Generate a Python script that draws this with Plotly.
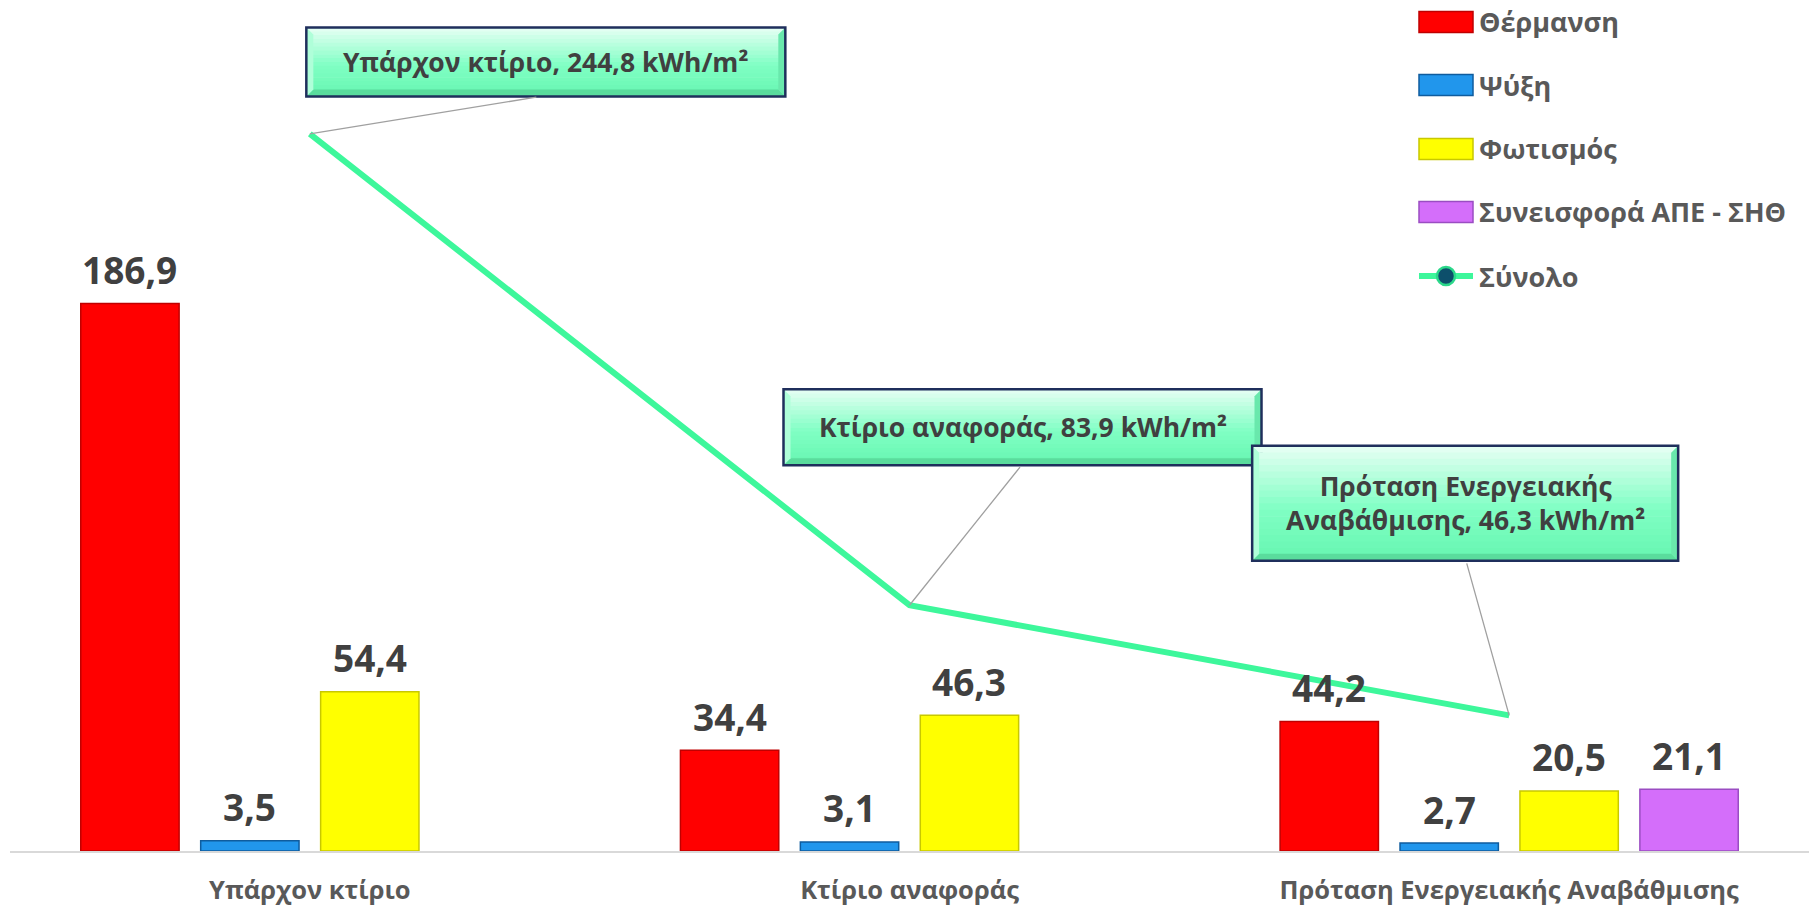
import plotly.graph_objects as go

# ---- data -------------------------------------------------------------
categories = ["Υπάρχον κτίριο", "Κτίριο αναφοράς", "Πρόταση Ενεργειακής Αναβάθμισης"]
heating = [186.9, 34.4, 44.2]
cooling = [3.5, 3.1, 2.7]
lighting = [54.4, 46.3, 20.5]
res_chp = [None, None, 21.1]
total = [244.8, 83.9, 46.3]
series_names = ["Θέρμανση", "Ψύξη", "Φωτισμός", "Συνεισφορά ΑΠΕ - ΣΗΘ", "Σύνολο"]
callout_names = ["Υπάρχον κτίριο", "Κτίριο αναφοράς", "Πρόταση Ενεργειακής<br>Αναβάθμισης"]
unit = "kWh/m²"

# ---- style ------------------------------------------------------------
FONT = "Open Sans"
LABEL_GREY = "#404040"
TEXT_GREY = "#595959"
GREEN = "#3DF79B"
bar_fill = ["#FF0000", "#2196EC", "#FFFF00", "#D46EFA"]
bar_edge = ["#C00000", "#0F5C9E", "#C8C800", "#9A4DC2"]

W, H = 1809, 909
ML, MR, MT, MB = 10, 0, 0, 58
Y_MAX = 290.5
BARGAP = 0.2
N_BARS = 4
SLOT = (1 - BARGAP) / N_BARS


def fmt(v):
    return f"{v:.1f}".replace(".", ",")


def mix(c0, c1, t):
    return "rgb({},{},{})".format(*[round(a + (b - a) * t) for a, b in zip(c0, c1)])


fig = go.Figure()

bar_values = [heating, cooling, lighting, res_chp]
for i, vals in enumerate(bar_values):
    fig.add_trace(go.Bar(
        x=categories, y=vals, name=series_names[i],
        marker=dict(color=bar_fill[i], line=dict(color=bar_edge[i], width=1.5)),
        showlegend=False, hoverinfo="skip",
    ))

fig.add_trace(go.Scatter(
    x=categories, y=total, name=series_names[4], mode="lines",
    line=dict(color=GREEN, width=6), showlegend=False, hoverinfo="skip",
))

annotations = []
shapes = []

# value labels above each bar
for i, vals in enumerate(bar_values):
    for c, v in enumerate(vals):
        if v is None:
            continue
        annotations.append(dict(
            x=c + (i - (N_BARS - 1) / 2) * SLOT, y=v, xref="x", yref="y",
            text=f"<b>{fmt(v)}</b>", showarrow=False, yshift=34,
            font=dict(family=FONT, size=37, color=LABEL_GREY),
        ))

# callout boxes (pixel offsets from each total point) with leader lines
box_offset = [(236, -72), (113, -178), (-44, -212)]
leader_end = [(228, -37), (112, -140), (-43, -154)]
box_size = [(479, 69), (478, 76), (426, 115)]
TOP_COL = (226, 255, 242)
MID_COL = (128, 255, 196)
BOT_COL = (104, 246, 178)
BEVEL_DARK = (86, 214, 152)
BEVEL_LIGHT = (200, 255, 228)
N_STRIPS = 18

for c, tot in enumerate(total):
    bx, by = box_offset[c]
    bw, bh = box_size[c]
    cx, cy = bx, -by
    x0, x1 = cx - bw / 2, cx + bw / 2
    y0, y1 = cy - bh / 2, cy + bh / 2
    anchor = dict(xref="x", yref="y", xsizemode="pixel", ysizemode="pixel",
                  xanchor=c, yanchor=tot, layer="above")
    # vertical gradient body
    for k in range(N_STRIPS):
        t = k / (N_STRIPS - 1)
        col = mix(TOP_COL, MID_COL, t / 0.55) if t < 0.55 else mix(MID_COL, BOT_COL, (t - 0.55) / 0.45)
        sy1 = y1 - bh * k / N_STRIPS
        sy0 = y1 - bh * (k + 1) / N_STRIPS - 0.6
        shapes.append(dict(type="rect", x0=x0, x1=x1, y0=sy0, y1=sy1,
                           fillcolor=col, line=dict(width=0), **anchor))
    # bevel edges
    bev = 7
    shapes.append(dict(type="path",
                       path=f"M{x0},{y0} L{x1},{y0} L{x1 - bev},{y0 + bev} L{x0 + bev},{y0 + bev} Z",
                       fillcolor=mix(BEVEL_DARK, BOT_COL, 0.2), line=dict(width=0), **anchor))
    shapes.append(dict(type="path",
                       path=f"M{x1},{y0} L{x1},{y1} L{x1 - bev},{y1 - bev} L{x1 - bev},{y0 + bev} Z",
                       fillcolor=mix(BEVEL_DARK, MID_COL, 0.45), line=dict(width=0), **anchor))
    shapes.append(dict(type="path",
                       path=f"M{x0},{y0} L{x0},{y1} L{x0 + bev},{y1 - bev} L{x0 + bev},{y0 + bev} Z",
                       fillcolor=mix(BEVEL_LIGHT, MID_COL, 0.35), line=dict(width=0), **anchor))
    shapes.append(dict(type="rect", x0=x0, x1=x1, y0=y0, y1=y1,
                       fillcolor="rgba(0,0,0,0)", line=dict(color="#1F2F5C", width=2.5), **anchor))

    lx, ly = leader_end[c]
    annotations.append(dict(
        x=c, y=tot, xref="x", yref="y", ax=lx, ay=ly,
        text=" ", font=dict(size=1), showarrow=True, arrowhead=0,
        arrowwidth=1.3, arrowcolor="#A0A0A0", standoff=0,
    ))
    annotations.append(dict(
        x=c, y=tot, xref="x", yref="y", xshift=cx, yshift=cy,
        text=f"<b>{callout_names[c]}, {fmt(tot)} {unit}</b>",
        showarrow=False, align="center", xanchor="center", yanchor="middle",
        font=dict(family=FONT, size=26.5, color=LABEL_GREY),
    ))

# legend drawn at the top right
PW = W - ML - MR
PH = H - MT - MB


def px_x(px):
    return (px - ML) / PW


def px_y(py):
    return (H - MB - py) / PH


leg_x0, leg_x1 = 1419, 1473
leg_rows = [22, 85, 149, 212, 276]
for i, yc in enumerate(leg_rows):
    if i < 4:
        shapes.append(dict(
            type="rect", xref="paper", yref="paper",
            x0=px_x(leg_x0), x1=px_x(leg_x1), y0=px_y(yc + 10.5), y1=px_y(yc - 10.5),
            fillcolor=bar_fill[i], line=dict(color=bar_edge[i], width=1.5),
        ))
    else:
        shapes.append(dict(
            type="line", xref="paper", yref="paper",
            x0=px_x(leg_x0), x1=px_x(leg_x1), y0=px_y(yc), y1=px_y(yc),
            line=dict(color=GREEN, width=6),
        ))
        shapes.append(dict(
            type="circle", xref="paper", yref="paper",
            x0=px_x(1437), x1=px_x(1455), y0=px_y(yc + 9), y1=px_y(yc - 9),
            fillcolor="#0D4F6B", line=dict(color="#2BD88A", width=2.5),
        ))
    annotations.append(dict(
        x=px_x(1477), y=px_y(yc), xref="paper", yref="paper",
        xanchor="left", yanchor="middle", showarrow=False,
        text=f"<b>{series_names[i]}</b>",
        font=dict(family=FONT, size=27, color=TEXT_GREY),
    ))

fig.update_layout(
    width=W, height=H,
    margin=dict(l=ML, r=MR, t=MT, b=MB, autoexpand=False),
    paper_bgcolor="white", plot_bgcolor="white",
    barmode="group", bargap=BARGAP, bargroupgap=0.18,
    annotations=annotations, shapes=shapes,
    showlegend=False,
)
fig.update_xaxes(
    showline=True, linecolor="#D9D9D9", linewidth=2, showgrid=False,
    ticks="", ticklabelstandoff=15, automargin=False,
    tickfont=dict(family=FONT, size=25.5, color=TEXT_GREY),
    tickprefix="<b>", ticksuffix="</b>",
)
fig.update_yaxes(
    range=[0, Y_MAX], visible=False, showgrid=False, zeroline=False,
    automargin=False,
)

fig.write_html("out.html")
